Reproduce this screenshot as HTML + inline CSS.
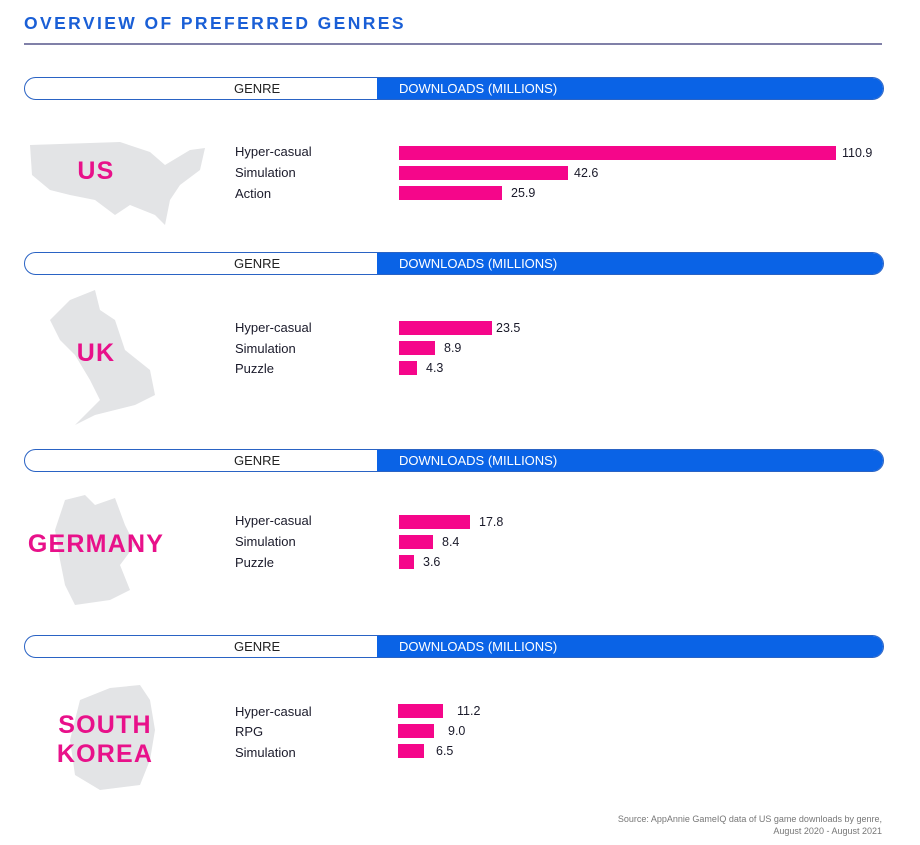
<!DOCTYPE html>
<html><head><meta charset="utf-8"><style>
body{margin:0;width:920px;height:845px;background:#fff;position:relative;overflow:hidden;font-family:"Liberation Sans",sans-serif}
.a{position:absolute}
.title{left:24px;top:13px;font-size:17.5px;font-weight:bold;color:#1a5fd6;letter-spacing:2.4px}
.rule{left:24px;top:43px;width:858px;height:2px;background:#8080a8}
.hdr{position:absolute;left:24px;width:858px;height:21px;border:1.5px solid #2a63c4;border-radius:12px;overflow:hidden}
.hdr .b{position:absolute;left:352px;top:0;right:0;bottom:0;background:#0a63e6}
.hdr .g{position:absolute;left:209px;top:3px;font-size:13px;color:#222}
.hdr .d{position:absolute;left:374px;top:3px;font-size:13px;color:#fff}
.lbl{position:absolute;left:235px;font-size:13px;color:#1a1a2a}
.bar{position:absolute;height:14px;background:#f5068a}
.val{position:absolute;font-size:12.5px;color:#1a1a2a}
.cty{position:absolute;font-weight:bold;color:#e8118a;font-size:25px;letter-spacing:1.2px;text-align:center}
.src{right:38px;top:813px;font-size:9px;color:#777;text-align:right;line-height:12px}
</style></head><body>
<div class="a title">OVERVIEW OF PREFERRED GENRES</div>
<div class="a rule"></div>

<svg class="a" style="left:0;top:0" width="920" height="845">
<g fill="#e3e4e6">
<path d="M30,145 L120,142 L150,152 L165,165 L190,150 L205,148 L200,170 L180,185 L170,200 L165,225 L155,215 L130,205 L115,215 L95,200 L70,195 L50,190 L32,175 Z"/>
<path d="M70,300 L95,290 L100,310 L115,320 L125,350 L150,370 L155,395 L135,405 L95,415 L75,425 L100,400 L90,380 L75,355 L60,340 L50,320 Z"/>
<path d="M65,500 L85,495 L95,505 L115,498 L125,525 L135,545 L120,565 L130,590 L110,600 L75,605 L65,585 L60,560 L55,530 Z"/>
<path d="M80,700 L110,688 L140,685 L150,700 L155,730 L150,760 L140,785 L100,790 L75,775 L70,740 Z"/>
</g>
</svg>

<div class="cty" style="left:60px;top:157px;width:72px">US</div>
<div class="cty" style="left:60px;top:339px;width:72px">UK</div>
<div class="cty" style="left:16px;top:530px;width:160px">GERMANY</div>
<div class="cty" style="left:38px;top:711px;width:134px;line-height:29px">SOUTH<br>KOREA</div>

<div class="hdr" style="top:77px"><div class="b"></div><div class="g">GENRE</div><div class="d">DOWNLOADS (MILLIONS)</div></div>
<div class="hdr" style="top:252px"><div class="b"></div><div class="g">GENRE</div><div class="d">DOWNLOADS (MILLIONS)</div></div>
<div class="hdr" style="top:449px"><div class="b"></div><div class="g">GENRE</div><div class="d">DOWNLOADS (MILLIONS)</div></div>
<div class="hdr" style="top:635px"><div class="b"></div><div class="g">GENRE</div><div class="d">DOWNLOADS (MILLIONS)</div></div>

<div class="lbl" style="top:144px">Hyper-casual</div>
<div class="lbl" style="top:165px">Simulation</div>
<div class="lbl" style="top:186px">Action</div>
<div class="bar" style="left:399px;top:146px;width:437px"></div><div class="val" style="left:842px;top:146px">110.9</div>
<div class="bar" style="left:399px;top:166px;width:169px"></div><div class="val" style="left:574px;top:166px">42.6</div>
<div class="bar" style="left:399px;top:186px;width:103px"></div><div class="val" style="left:511px;top:186px">25.9</div>

<div class="lbl" style="top:320px">Hyper-casual</div>
<div class="lbl" style="top:341px">Simulation</div>
<div class="lbl" style="top:361px">Puzzle</div>
<div class="bar" style="left:399px;top:321px;width:93px"></div><div class="val" style="left:496px;top:321px">23.5</div>
<div class="bar" style="left:399px;top:341px;width:36px"></div><div class="val" style="left:444px;top:341px">8.9</div>
<div class="bar" style="left:399px;top:361px;width:18px"></div><div class="val" style="left:426px;top:361px">4.3</div>

<div class="lbl" style="top:513px">Hyper-casual</div>
<div class="lbl" style="top:534px">Simulation</div>
<div class="lbl" style="top:555px">Puzzle</div>
<div class="bar" style="left:399px;top:515px;width:71px"></div><div class="val" style="left:479px;top:515px">17.8</div>
<div class="bar" style="left:399px;top:535px;width:34px"></div><div class="val" style="left:442px;top:535px">8.4</div>
<div class="bar" style="left:399px;top:555px;width:15px"></div><div class="val" style="left:423px;top:555px">3.6</div>

<div class="lbl" style="top:704px">Hyper-casual</div>
<div class="lbl" style="top:724px">RPG</div>
<div class="lbl" style="top:745px">Simulation</div>
<div class="bar" style="left:398px;top:704px;width:45px"></div><div class="val" style="left:457px;top:704px">11.2</div>
<div class="bar" style="left:398px;top:724px;width:36px"></div><div class="val" style="left:448px;top:724px">9.0</div>
<div class="bar" style="left:398px;top:744px;width:26px"></div><div class="val" style="left:436px;top:744px">6.5</div>

<div class="a src">Source: AppAnnie GameIQ data of US game downloads by genre,<br>August 2020 - August 2021</div>
</body></html>
